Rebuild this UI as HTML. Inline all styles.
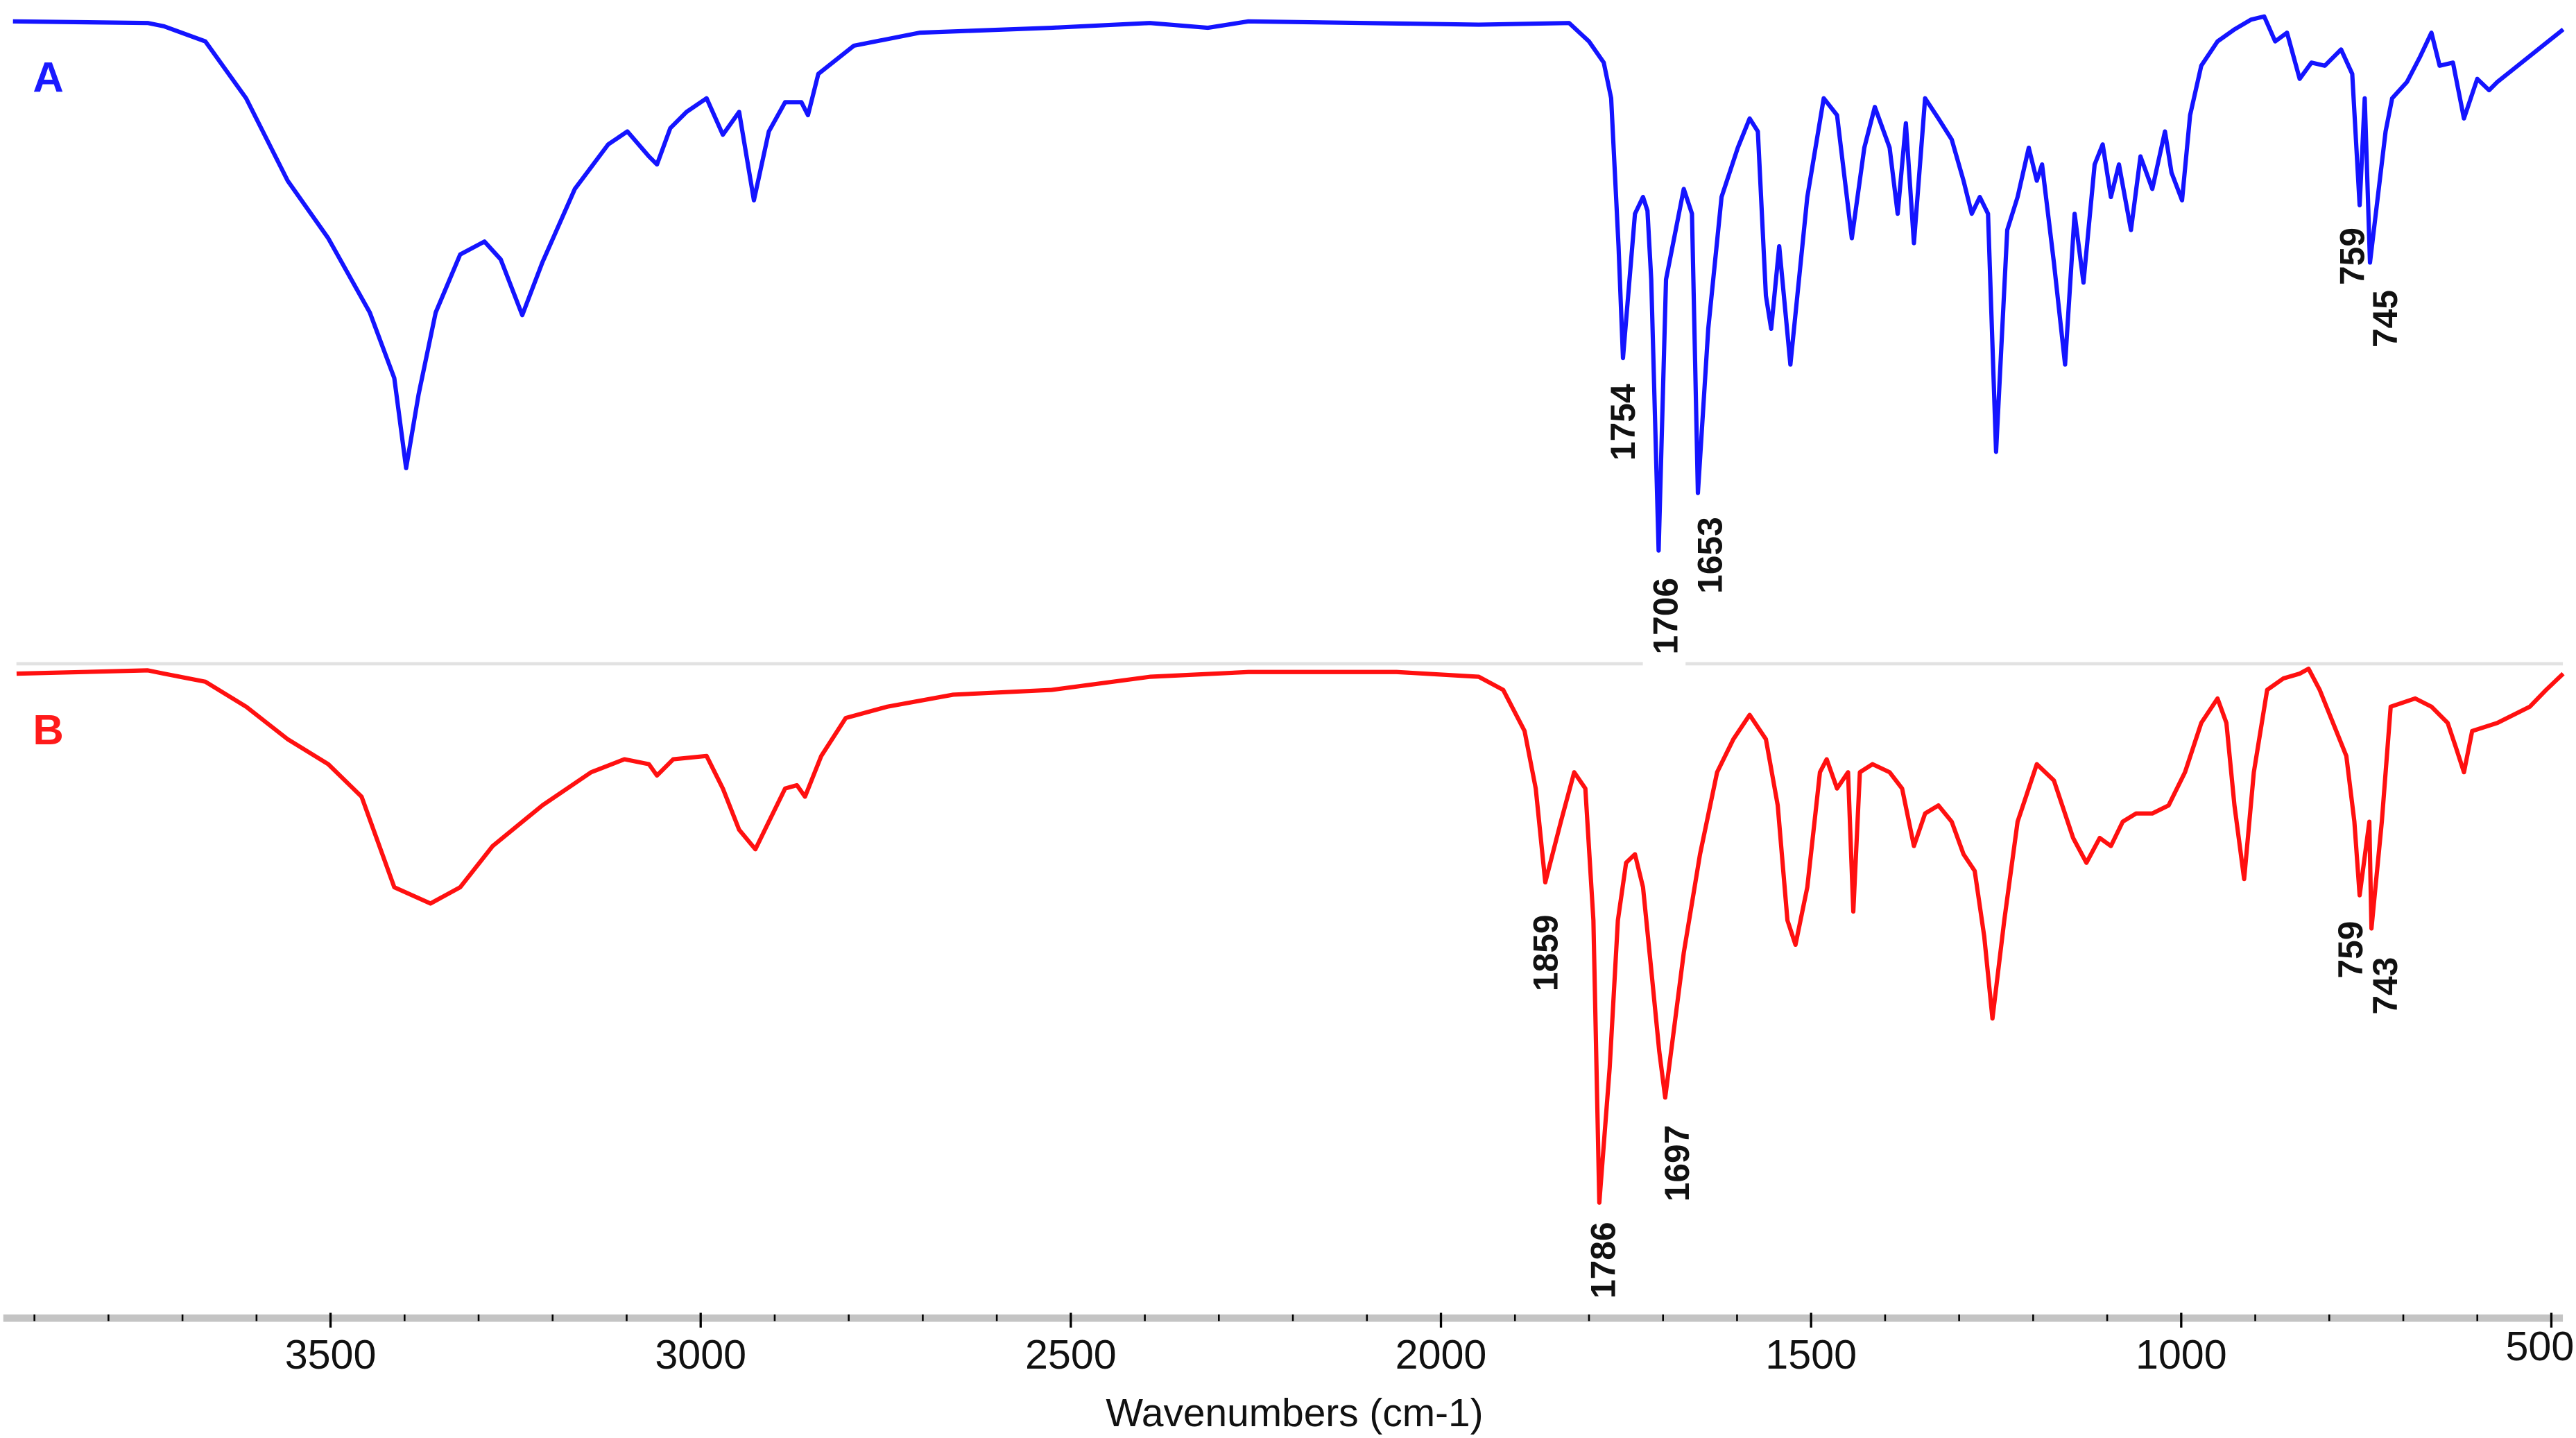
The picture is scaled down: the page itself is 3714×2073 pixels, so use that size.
<!DOCTYPE html>
<html><head><meta charset="utf-8"><style>
html,body{margin:0;padding:0;background:#fff;}
svg{display:block;}
text{font-family:"Liberation Sans",Arial,sans-serif;}
</style></head><body>
<svg id="chart" width="3714" height="2073" viewBox="0 0 1568 875.2" preserveAspectRatio="none" xmlns="http://www.w3.org/2000/svg">
<line x1="10" y1="404" x2="1000" y2="404" stroke="#e2e2e2" stroke-width="2"/>
<line x1="1026" y1="404" x2="1560" y2="404" stroke="#e2e2e2" stroke-width="2"/>
<g id="axis"></g>
<g id="series"></g>
<g id="labels"></g>
<text x="20" y="56" fill="#1a1aff" font-size="26" font-weight="bold">A</text>
<text x="20" y="453" fill="#ff1a1a" font-size="26" font-weight="bold">B</text>
<text x="788" y="868" text-anchor="middle" font-size="24" fill="#111">Wavenumbers (cm-1)</text>
</svg>
<script>
const NS="http://www.w3.org/2000/svg";
const tickMajor=[3500,3000,2500,2000,1500,1000,500];
const wnA=[3929,3747,3725,3669,3614,3558,3503,3447,3414,3398,3381,3358,3325,3292,3270,3241,3214,3170,3125,3099,3070,3059,3041,3019,2992,2970,2948,2928,2908,2886,2864,2855,2841,2793,2704,2526,2393,2315,2260,1949,1827,1800,1780,1770,1760,1754,1738,1727,1721,1716,1706,1696,1672,1661,1653,1639,1621,1599,1583,1572,1561,1554,1543,1528,1505,1483,1465,1445,1428,1414,1394,1383,1372,1361,1346,1328,1310,1294,1283,1272,1261,1250,1235,1221,1206,1195,1188,1172,1157,1144,1132,1117,1106,1095,1084,1068,1055,1039,1022,1013,999,988,973,951,928,906,888,873,857,840,824,806,784,769,759,752,745,724,715,695,678,662,651,633,618,600,584,573,551,518,484];
const tA=[99.7,99.4,98.8,96,85.5,70.3,59.7,46,33.9,17.3,30.9,46,56.7,59.1,55.8,45.5,55.2,68.8,77,79.4,74.8,73.3,80,83,85.5,78.8,83,66.7,79.4,84.8,84.8,82.4,90,95.2,97.6,98.5,99.4,98.5,99.7,99.1,99.4,96,92.1,85.5,58.2,37.6,64.2,67.3,64.8,52.1,2.1,52.1,68.8,64.2,12.7,43,67.3,76.4,81.8,79.4,49.1,43,58.2,36.4,67.3,85.5,82.4,59.7,76.4,83.9,76.4,64.2,80.9,58.8,85.5,81.8,77.9,70.3,64.2,67.3,64.2,20.3,61.2,67.3,76.4,70.3,73.3,55.2,36.4,64.2,51.5,73.3,77,67.3,73.3,61.2,74.8,68.8,79.4,71.8,66.7,82.4,91.5,96,98.2,100,100.6,96,97.6,89.1,92.1,91.5,94.5,90,65.8,85.5,55.2,79.4,85.5,88.5,93,97.6,91.5,92.1,81.8,89.1,87,88.5,90.9,94.5,98.2];
const wnB=[3924,3747,3725,3669,3614,3558,3503,3458,3414,3365,3325,3281,3214,3148,3103,3070,3059,3037,2992,2970,2948,2926,2908,2886,2870,2859,2837,2804,2748,2659,2526,2393,2260,2060,1949,1916,1887,1872,1859,1838,1820,1805,1794,1786,1772,1761,1750,1738,1727,1716,1705,1697,1672,1650,1627,1605,1583,1561,1545,1532,1521,1505,1488,1479,1465,1450,1443,1434,1417,1394,1377,1361,1346,1328,1310,1294,1279,1266,1255,1239,1221,1195,1172,1146,1128,1110,1095,1079,1061,1039,1017,995,973,951,939,928,915,902,884,862,840,828,813,795,777,766,759,746,743,729,717,684,662,640,629,618,607,573,529,507,484];
const tB=[99.1,99.7,99.1,97.6,93,87,82.4,76.4,59.7,56.7,59.7,67.3,74.8,80.9,83.3,82.4,80.3,83.3,83.9,77.9,70.3,66.7,71.8,77.9,78.5,76.4,83.9,90.9,93,95.2,96.1,98.5,99.4,99.4,98.5,96.1,88.5,77.9,60.6,71.8,80.9,77.9,53.6,1.5,26.4,53.6,64.2,65.8,59.7,44.5,29.4,20.9,47.6,65.8,80.9,87,91.5,87,74.8,53.6,49.1,59.7,80.9,83.3,77.9,80.9,55.2,80.9,82.4,80.9,77.9,67.3,73.3,74.8,71.8,65.8,62.7,50.6,35.5,53.6,71.8,82.4,79.4,68.8,64.2,68.8,67.3,71.8,73.3,73.3,74.8,80.9,90,94.5,90,74.8,61.2,80.9,96.1,98.2,99.1,100,96.1,90,83.9,71.8,58.2,71.8,52.1,71.8,93,94.5,93,90,85.5,80.9,88.5,90,93,96.1,99.1];
const labelsA=["1754","1706","1653","759","745"];
const labelsB=["1859","1786","1697","759","743"];

function xs(w){return 1553-(w-500)*0.4506;}
function yA(t){return 12+(100-t)*3.3;}
function yB(t){return 407+(100-t)*3.3;}
const ax=document.getElementById('axis');
function mk(tag,attrs,parent){const e=document.createElementNS(NS,tag);for(const k in attrs)e.setAttribute(k,attrs[k]);parent.appendChild(e);return e;}

const band=mk('rect',{x:2,y:800,width:1558,height:4.5,fill:'#c4c4c4'},ax);


for(let w=3900;w>=500;w-=100){
  const major=w%500===0;
  const t=mk('line',{x1:xs(w),x2:xs(w),y1:major?799:800,y2:major?808:804,stroke:'#000','stroke-width':major?1.4:1.1},ax);
  
  
}
tickMajor.forEach(w=>{
  const tx=mk('text',{x:xs(w)-(w===500?7:0),y:w===500?828:833,'text-anchor':'middle','font-size':25,fill:'#111'},ax);
  tx.textContent=String(w);
  
  
});

const ser=document.getElementById('series');
function line(wn,t,yf,color,name){
  const d=wn.map((w,i)=>(i?'L':'M')+xs(w).toFixed(1)+' '+yf(t[i]).toFixed(1)).join(' ');
  const p=mk('path',{d:d,fill:'none',stroke:color,'stroke-width':2.6,'stroke-linejoin':'round'},ser);
  
  
}
line(wnA,tA,yA,'#1414ff','spectrum-a-line');
line(wnB,tB,yB,'#ff1010','spectrum-b-line');

const lab=document.getElementById('labels');
const posA=[[987,257],[1013,375],[1040,338],[1431,156],[1451,194]];
const posB=[[940,580],[975,767],[1020,708],[1430,578],[1451,600]];
function addLabels(txts,pos){
  txts.forEach((s,i)=>{
    const x=pos[i][0]+8, y=pos[i][1];
    const t=mk('text',{x:x,y:y,transform:`rotate(-90 ${x} ${y})`,'text-anchor':'middle','font-size':21,'font-weight':'bold',fill:'#111'},lab);
    t.textContent=s;
    
    
  });
}
addLabels(labelsA,posA);
addLabels(labelsB,posB);
</script>
</body></html>
